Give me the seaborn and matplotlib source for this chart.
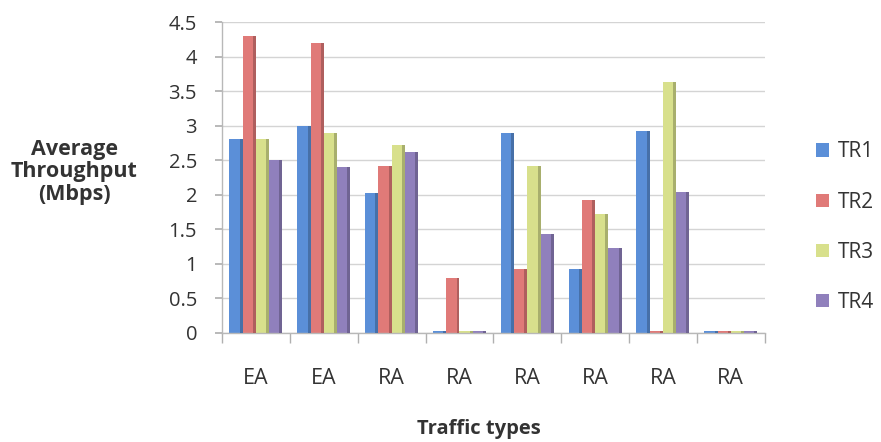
import numpy as np
import pandas as pd
import matplotlib
matplotlib.use("Agg")
import matplotlib.pyplot as plt
import seaborn as sns
from matplotlib.patches import Polygon
from matplotlib.colors import to_rgb

# Traffic-type categories (one group per run) and throughput per traffic route
categories = ["EA", "EA", "RA", "RA", "RA", "RA", "RA", "RA"]
tr1 = [2.8, 3.0, 2.02, 0.02, 2.9, 0.93, 2.92, 0.02]
tr2 = [4.3, 4.2, 2.42, 0.8, 0.93, 1.92, 0.02, 0.02]
tr3 = [2.8, 2.9, 2.72, 0.02, 2.42, 1.72, 3.63, 0.02]
tr4 = [2.5, 2.4, 2.62, 0.02, 1.43, 1.23, 2.04, 0.02]
series_names = ["TR1", "TR2", "TR3", "TR4"]
y_ticks = [0, 0.5, 1, 1.5, 2, 2.5, 3, 3.5, 4, 4.5]

colors = ["#5b8fd8", "#e07a78", "#d8e08c", "#9080bc"]

rows = []
for name, vals in zip(series_names, [tr1, tr2, tr3, tr4]):
    for i, v in enumerate(vals):
        rows.append({"group": i, "series": name, "value": v})
df = pd.DataFrame(rows)

sns.set_theme(style="white")
plt.rcParams["font.family"] = ["Open Sans", "DejaVu Sans"]
text_color = "#333333"

fig = plt.figure(figsize=(8.81, 4.42), dpi=100)
ax = fig.add_axes([0.252, 0.247, 0.616, 0.703])

sns.barplot(data=df, x="group", y="value", hue="series", hue_order=series_names,
            palette=colors, width=0.78, saturation=1, ax=ax, edgecolor="none",
            legend=True)

# give each bar a darker side face for a raised look
for patch in list(ax.patches):
    x0, y0 = patch.get_x(), patch.get_y()
    w, h = patch.get_width(), patch.get_height()
    if w <= 0:
        continue
    base = np.array(to_rgb(patch.get_facecolor()))
    side_w = w * 0.22
    side = Polygon([[x0 + w - side_w, y0], [x0 + w, y0],
                    [x0 + w, y0 + h], [x0 + w - side_w, y0 + h]],
                   closed=True, facecolor=base * 0.78, edgecolor="none", zorder=3)
    ax.add_patch(side)

ax.set_ylim(0, 4.5)
ax.set_xlim(-0.5, len(categories) - 0.5)
ax.set_yticks(y_ticks)
ax.set_yticklabels([f"{t:g}" for t in y_ticks])
ax.yaxis.grid(True, color="#d4d4d4", linewidth=1)
ax.set_axisbelow(True)

ax.set_xticks(range(len(categories)))
ax.set_xticklabels(categories)
ax.set_xticks(np.arange(-0.5, len(categories)), minor=True)
ax.tick_params(axis="x", which="major", length=0, pad=25, labelsize=15.5, labelcolor=text_color)
ax.tick_params(axis="x", which="minor", length=7, color="#b0b0b0", width=1, bottom=True)
ax.tick_params(axis="y", length=5, color="#b0b0b0", left=True, pad=13, labelsize=14.5, labelcolor=text_color)

for s in ["top", "right"]:
    ax.spines[s].set_visible(False)
for s in ["left", "bottom"]:
    ax.spines[s].set_color("#b8b8b8")
    ax.spines[s].set_linewidth(1)

ax.set_xlabel("Traffic types", fontsize=14.5, fontweight="bold", color=text_color)
ax.xaxis.set_label_coords(0.474, -0.31)
ax.xaxis.label.set_va("center")
ax.set_ylabel("")
fig.text(0.084, 0.611, "Average\nThroughput\n(Mbps)", ha="center", va="center",
         fontsize=15.5, fontweight="bold", color=text_color, linespacing=1.08)

handles, labels = ax.get_legend_handles_labels()
ax.legend(handles, labels, loc="center left", bbox_to_anchor=(1.06, 0.34), frameon=False,
          fontsize=15, labelspacing=1.4, handlelength=0.6, handleheight=0.6,
          handletextpad=0.45, labelcolor=text_color)

fig.savefig("out.png", dpi=100, facecolor="white")
